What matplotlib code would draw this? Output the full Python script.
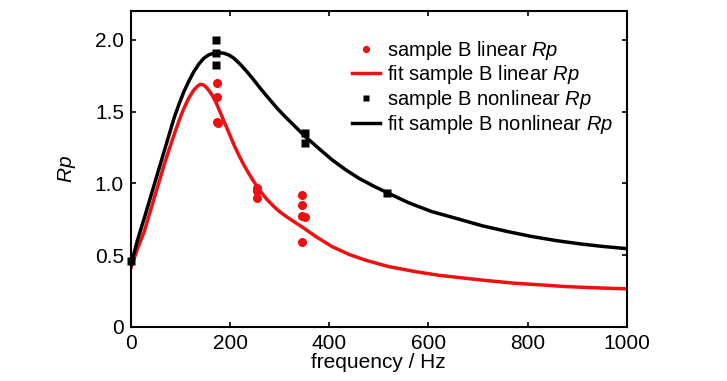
import numpy as np
import matplotlib
matplotlib.use("Agg")
import matplotlib.pyplot as plt

plt.rcParams['font.family'] = ['Liberation Sans', 'DejaVu Sans']
plt.rcParams['mathtext.fontset'] = 'custom'
plt.rcParams['mathtext.rm'] = 'Liberation Sans'
plt.rcParams['mathtext.it'] = 'Liberation Sans:italic'

# measured points, sample B linear Rp
lin_f = [174, 174, 174, 176, 255, 255, 255, 346, 346, 346, 352, 346]
lin_rp = [1.70, 1.60, 1.43, 1.42, 0.97, 0.95, 0.90, 0.92, 0.85, 0.77, 0.765, 0.59]

# measured points, sample B nonlinear Rp
nl_f = [0, 171, 171, 171, 352, 352, 517]
nl_rp = [0.46, 2.00, 1.905, 1.825, 1.35, 1.28, 0.935]

# fit curves
fit_lin_f = [0, 13, 27, 37, 47, 57, 67, 77, 87, 97, 107, 117, 127, 134, 140, 147, 154,
             162, 171, 179, 188, 198, 208, 218, 228, 238, 248, 261, 275, 288, 301,
             315, 328, 346, 375, 406, 440, 473, 520, 574, 620, 674, 720, 775, 830,
             876, 940, 1000]
fit_lin_rp = [0.41, 0.54, 0.664, 0.78, 0.896, 1.01, 1.128, 1.235, 1.337, 1.435, 1.523,
              1.595, 1.650, 1.675, 1.690, 1.685, 1.662, 1.625, 1.569, 1.505, 1.43,
              1.35, 1.267, 1.195, 1.128, 1.068, 1.012, 0.945, 0.886, 0.84, 0.80,
              0.765, 0.735, 0.695, 0.625, 0.559, 0.505, 0.465, 0.42, 0.385, 0.36, 0.339,
              0.322, 0.304, 0.292, 0.281, 0.272, 0.265]

fit_nl_f = [0, 13, 27, 37, 47, 57, 67, 77, 87, 97, 107, 117, 127, 137, 147, 157, 167,
            177, 188, 198, 208, 221, 234, 248, 261, 278, 295, 311, 328, 352, 380,
            406, 433, 460, 490, 517, 560, 607, 660, 708, 760, 808, 860, 909, 950,
            1000]
fit_nl_rp = [0.43, 0.60, 0.757, 0.873, 0.989, 1.105, 1.221, 1.337, 1.453, 1.55, 1.639,
             1.712, 1.778, 1.83, 1.871, 1.895, 1.906, 1.91, 1.906, 1.893, 1.871, 1.828,
             1.778, 1.72, 1.662, 1.592, 1.523, 1.465, 1.407, 1.325, 1.24, 1.163, 1.095,
             1.035, 0.98, 0.935, 0.865, 0.803, 0.752, 0.705, 0.664, 0.630, 0.600,
             0.577, 0.561, 0.545]

x_ticks = [0, 200, 400, 600, 800, 1000]
y_ticks = [0, 0.5, 1.0, 1.5, 2.0]
y_tick_labels = ['0', '0.5', '1.0', '1.5', '2.0']

fig = plt.figure(figsize=(7.27, 3.81), dpi=100)
ax = fig.add_axes([0.180, 0.142, 0.682, 0.829])

ax.plot(lin_f, lin_rp, 'o', color='#ee1111', ms=6.5, mec='none',
        label='sample B linear $\\mathit{Rp}$', clip_on=False)
ax.plot(fit_lin_f, fit_lin_rp, '-', color='#ee1111', lw=2.5, solid_joinstyle='round',
        label='fit sample B linear $\\mathit{Rp}$')
ax.plot(nl_f, nl_rp, 's', color='black', ms=5.5, mec='none',
        label='sample B nonlinear $\\mathit{Rp}$', clip_on=False)
ax.plot(fit_nl_f, fit_nl_rp, '-', color='black', lw=2.5, solid_joinstyle='round',
        label='fit sample B nonlinear $\\mathit{Rp}$')

ax.set_xlim(0, 1000)
ax.set_ylim(0, 2.2)
ax.set_xticks(x_ticks)
ax.set_yticks(y_ticks)
ax.set_yticklabels(y_tick_labels)
ax.tick_params(direction='in', length=3.5, width=1.2, top=True, right=True,
               labelsize=15, pad=5)
for s in ax.spines.values():
    s.set_linewidth(1.5)

ax.set_xlabel('frequency / Hz', fontsize=15, labelpad=0)
ax.set_ylabel('$\\mathit{Rp}$', fontsize=15, labelpad=12)

ax.legend(loc='upper left', bbox_to_anchor=(0.446, 0.912), frameon=False,
          fontsize=14.5, borderpad=0, borderaxespad=0, handlelength=1.4,
          handletextpad=0.35, labelspacing=0.08, markerscale=0.8)

fig.savefig('out.png', dpi=100)
